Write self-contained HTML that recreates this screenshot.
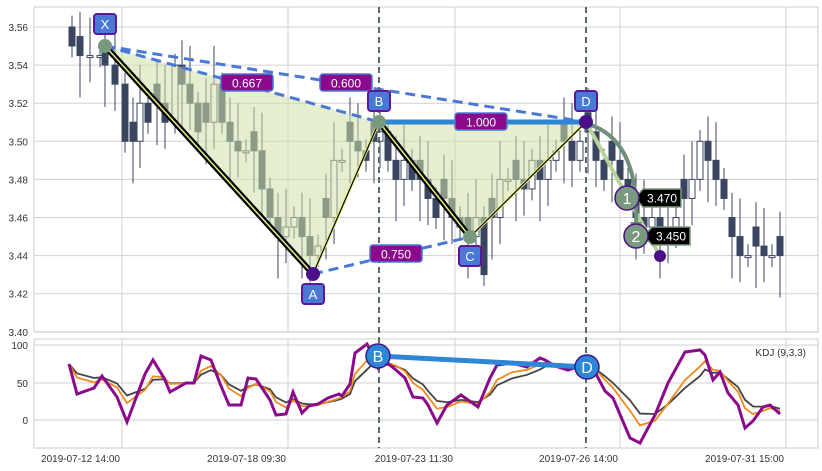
<!DOCTYPE html>
<html><head><meta charset="utf-8"><style>
body{margin:0;background:#fff;}
svg{display:block;font-family:"Liberation Sans",sans-serif;}
</style></head><body>
<svg id="s" width="822" height="471" viewBox="0 0 822 471" xmlns="http://www.w3.org/2000/svg">
<rect x="34" y="7" width="784" height="325" fill="#fff" stroke="#ccc"/>
<rect x="34" y="339" width="784" height="109" fill="#fff" stroke="#ccc"/>
<g id="grid" stroke="#d0d0d0" stroke-width="1"></g>
<g id="candles"></g>
<g id="ov"></g>
</svg>
<script>
const NS="http://www.w3.org/2000/svg";
function el(p,t,a,txt){const e=document.createElementNS(NS,t);for(const k in a)e.setAttribute(k,a[k]);if(txt!==undefined)e.textContent=txt;p.appendChild(e);return e;}
const s=document.getElementById('s'),g=document.getElementById('grid'),cg=document.getElementById('candles'),ov=document.getElementById('ov');
const Y=v=>27+(3.56-v)/0.02*38.1;
for(let v=3.40;v<=3.561;v+=0.02){const y=Y(v);el(g,'line',{x1:34,x2:818,y1:y,y2:y});
el(s,'text',{x:28,y:y+4,'font-size':10,'text-anchor':'end',fill:'#333'},v.toFixed(2));}
const gx=[122,288,455,620,786];
gx.forEach(x=>{el(g,'line',{x1:x,x2:x,y1:7,y2:332});el(g,'line',{x1:x,x2:x,y1:339,y2:448});});
[[345,'100'],[383,'50'],[420,'0']].forEach(([y,t])=>{el(g,'line',{x1:34,x2:818,y1:y,y2:y});el(s,'text',{x:28,y:y+4,'font-size':10,'text-anchor':'end',fill:'#333'},t);});
['2019-07-12 14:00','2019-07-18 09:30','2019-07-23 11:30','2019-07-26 14:00','2019-07-31 15:00'].forEach((t,i)=>el(s,'text',{x:gx[i]-2,y:462,'font-size':10,'text-anchor':'end',fill:'#333'},t));
const pts=[[72,3.55],[80,3.545],[90,3.545],[100,3.545],[105,3.54],[115,3.53],[125,3.50],[133,3.50],[140,3.52],[148,3.51],[157,3.52],[165,3.51],[175,3.54],[182,3.53],[190,3.52],[198,3.505],[206,3.51],[214,3.53],[222,3.51],[230,3.50],[238,3.495],[246,3.495],[254,3.495],[262,3.475],[270,3.46],[278,3.45],[286,3.455],[294,3.46],[302,3.45],[310,3.44],[318,3.445],[326,3.46],[334,3.49],[342,3.49],[350,3.50],[358,3.495],[366,3.49],[374,3.50],[380,3.505],[388,3.49],[396,3.48],[404,3.49],[412,3.48],[420,3.48],[428,3.47],[436,3.46],[444,3.47],[452,3.46],[460,3.455],[468,3.45],[476,3.46],[484,3.43],[492,3.46],[500,3.48],[508,3.48],[516,3.48],[524,3.475],[532,3.49],[540,3.48],[548,3.49],[556,3.495],[564,3.50],[572,3.49],[580,3.50],[588,3.505],[596,3.49],[604,3.48],[612,3.49],[620,3.48],[628,3.47],[636,3.46],[644,3.455],[652,3.46],[660,3.45],[668,3.45],[676,3.46],[684,3.47],[692,3.48],[700,3.50],[708,3.49],[716,3.48],[724,3.47],[732,3.45],[740,3.44],[748,3.44],[756,3.445],[764,3.44],[772,3.44],[780,3.44]];
let prev=3.56;
pts.forEach(([x,c],i)=>{const o=(i%3==1)?c+0.01:prev;let hi=Math.max(o,c)+0.006+((i*7)%3)*0.007,lo=Math.min(o,c)-0.006-((i*5)%3)*0.008;
el(cg,'line',{x1:x,x2:x,y1:Y(hi),y2:Y(lo),stroke:'#3a4660','stroke-width':1});
let y1=Y(Math.max(o,c)),y2=Y(Math.min(o,c));if(y2-y1<2){y2=y1+2;}
const down=c<o;el(cg,'rect',{x:x-3,y:y1,width:6,height:y2-y1,fill:down?'#3a4660':'#fff',stroke:'#3a4660','stroke-width':1});prev=c;});
const P={X:[105,46],A:[313,274],B:[379,122],C:[470,237],D:[586,122]};
const pp=a=>a.join(',');
el(ov,'polygon',{points:[P.X,P.A,P.B].map(pp).join(' '),fill:'#cfe0a8',opacity:0.55});
el(ov,'polygon',{points:[P.B,P.C,P.D].map(pp).join(' '),fill:'#cfe0a8',opacity:0.55});
const dash={stroke:'#4a78d6','stroke-width':3,'stroke-dasharray':'10,6',fill:'none'};
el(ov,'line',Object.assign({x1:P.X[0],y1:P.X[1],x2:P.B[0],y2:P.B[1]},dash));
el(ov,'line',Object.assign({x1:P.X[0],y1:P.X[1],x2:P.D[0],y2:P.D[1]},dash));
el(ov,'line',Object.assign({x1:P.A[0],y1:P.A[1],x2:P.C[0],y2:P.C[1]},dash));
el(ov,'line',{x1:P.B[0],y1:P.B[1],x2:P.D[0],y2:P.D[1],stroke:'#2e86d6','stroke-width':5});
[[P.X,P.A],[P.B,P.C]].forEach(([a,b])=>{el(ov,'line',{x1:a[0],y1:a[1],x2:b[0],y2:b[1],stroke:'#000','stroke-width':6});el(ov,'line',{x1:a[0],y1:a[1],x2:b[0],y2:b[1],stroke:'#e8f080','stroke-width':1.5});});
[[P.A,P.B],[P.C,P.D]].forEach(([a,b])=>{el(ov,'line',{x1:a[0],y1:a[1],x2:b[0],y2:b[1],stroke:'#e8f080','stroke-width':3});el(ov,'line',{x1:a[0],y1:a[1],x2:b[0],y2:b[1],stroke:'#000','stroke-width':1.2});});
[379,586].forEach(x=>el(ov,'line',{x1:x,x2:x,y1:7,y2:448,stroke:'#5a6a6a','stroke-width':2,'stroke-dasharray':'6,4'}));
el(ov,'line',{x1:586,y1:122,x2:660,y2:256,stroke:'#b8d39a','stroke-width':4});
el(ov,'path',{d:'M588,124 Q640,140 636,226',stroke:'#6f8f78','stroke-width':4,fill:'none'});
el(ov,'polygon',{points:'630,222 642,222 636,232',fill:'#6f8f78'});
el(ov,'circle',{cx:660,cy:256,r:6,fill:'#4b0f8a'});
[[627,198,'1','3.470'],[636,236,'2','3.450']].forEach(([x,y,n,t])=>{
el(ov,'polygon',{points:`${x+8},${y} ${x+16},${y-9} ${x+54},${y-9} ${x+54},${y+9} ${x+16},${y+9}`,fill:'#000',stroke:'#7a9a80','stroke-width':1.5});
el(ov,'text',{x:x+35,y:y+4.5,'font-size':12,fill:'#fff','text-anchor':'middle'},t);
el(ov,'circle',{cx:x,cy:y,r:12,fill:'#7a9a80',stroke:'#4b0f8a','stroke-width':1.5});
el(ov,'text',{x:x,y:y+6,'font-size':16,fill:'#fff','text-anchor':'middle'},n);});
[['X','#7a9a80'],['A','#4b0f8a'],['B','#7a9a80'],['C','#7a9a80'],['D','#4b0f8a']].forEach(([k,c])=>el(ov,'circle',{cx:P[k][0],cy:P[k][1],r:7,fill:c}));
[[247,83,'0.667'],[346,83,'0.600'],[481,122,'1.000'],[396,254,'0.750']].forEach(([x,y,t])=>{
el(ov,'rect',{x:x-26,y:y-9,width:52,height:17,rx:3,fill:'#8b0a8b',stroke:'#4a78d6','stroke-width':1.5});
el(ov,'text',{x:x,y:y+4.5,'font-size':12,fill:'#fff','text-anchor':'middle'},t);});
[['X',105,24],['B',379,101],['D',586,101],['A',313,294],['C',470,256]].forEach(([t,x,y])=>{
el(ov,'rect',{x:x-11,y:y-10,width:22,height:20,rx:3,fill:'#4a78d6',stroke:'#5a189a','stroke-width':2});
el(ov,'text',{x:x,y:y+5,'font-size':13,fill:'#fff','text-anchor':'middle'},t);});
const J=[[69,364],[77,394],[94,388],[102,376],[117,397],[127,422],[145,374],[153,360],[164,378],[170,392],[186,383],[194,383],[201,356],[211,360],[221,386],[229,405],[241,405],[248,378],[256,379],[270,400],[276,415],[286,414],[293,392],[302,413],[309,406],[318,404],[328,398],[339,394],[342,396],[350,384],[355,353],[367,344],[372,354],[378,368],[386,362],[396,370],[405,378],[413,397],[423,398],[428,405],[437,423],[447,405],[461,395],[478,407],[490,378],[497,365],[512,363],[527,367],[540,358],[545,360],[555,366],[568,370],[574,368],[587,367],[596,374],[605,391],[613,398],[630,438],[640,443],[655,415],[668,383],[685,352],[700,350],[705,355],[713,380],[720,372],[728,393],[738,405],[745,428],[753,421],[763,407],[770,405],[780,414]];
function smooth(a,k){const r=[];let v=a[0][1];a.forEach(([x,y])=>{v=v+(y-v)/k;r.push([x,v]);});return r;}
const Dl=smooth(J,2.2),Kl=smooth(J,3.2);
el(s,'polyline',{points:Kl.map(pp).join(' '),fill:'none',stroke:'#444','stroke-width':1.8});
el(s,'polyline',{points:Dl.map(pp).join(' '),fill:'none',stroke:'#f08a1c','stroke-width':1.8});
el(s,'polyline',{points:J.map(pp).join(' '),fill:'none',stroke:'#8b0a8b','stroke-width':3});
el(s,'line',{x1:378,y1:356,x2:587,y2:367,stroke:'#2e86d6','stroke-width':5});
[['B',378,356],['D',587,367]].forEach(([t,x,y])=>{el(s,'circle',{cx:x,cy:y,r:12,fill:'#2e86d6',stroke:'#3a1a8a','stroke-width':1.5});
el(s,'text',{x:x,y:y+6,'font-size':16,fill:'#fff','text-anchor':'middle'},t);});
el(s,'text',{x:806,y:356,'font-size':10,'text-anchor':'end',fill:'#333'},'KDJ (9,3,3)');
</script>
</body></html>
